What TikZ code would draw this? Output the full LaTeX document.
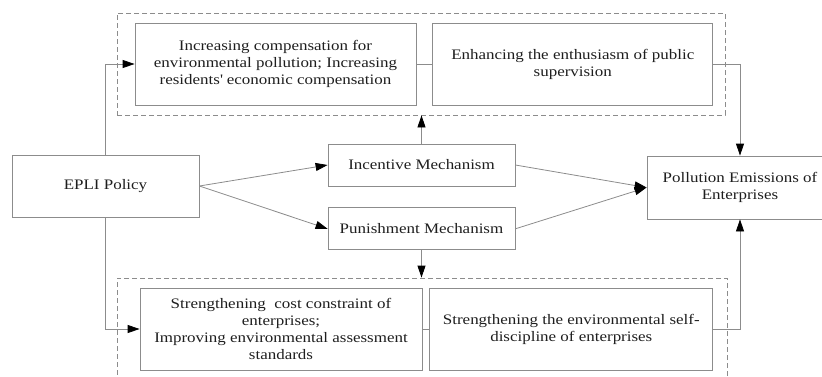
\documentclass[tikz,border=0pt]{standalone}
\usepackage{fontspec}
\setmainfont{Liberation Serif}[FakeStretch=1.17]
\usetikzlibrary{arrows.meta,positioning,backgrounds,fit}
\definecolor{linegray}{RGB}{140,140,140}
\definecolor{textgray}{RGB}{30,30,30}
\tikzset{
  box/.style={draw=linegray, line width=0.8pt, align=center, inner sep=0pt,
    text=textgray, font=\fontsize{14.5}{17}\selectfont},
  wide/.style={box, minimum width=281pt, minimum height=82pt},
  mech/.style={box, minimum width=187pt, minimum height=42pt},
  group/.style={draw=linegray, line width=0.8pt, dash pattern=on 5pt off 3pt, inner sep=0pt},
  link/.style={draw=linegray, line width=0.8pt},
  flow/.style={link, -{Triangle[length=12pt,width=8pt,black]}}
}

\begin{document}
\begin{tikzpicture}[x=1pt, y=-1pt, node distance=16pt]
  \clip (0,0) rectangle (822,376);
  \node[box, minimum width=187pt, minimum height=62pt] (epli) at (105.5,186) {EPLI Policy};
  \node[mech] (incent) at (421.5,165) {Incentive Mechanism};
  \node[mech] (punish) [below=21pt of incent] {Punishment Mechanism};
  \node[box, minimum width=186pt, minimum height=63pt] (pollut) at (740,187.5)
    {Pollution Emissions of\\Enterprises};
  % upper row
  \node[wide] (comp) at (275.5,64)
    {Increasing compensation for\\environmental pollution; Increasing\\residents\textquotesingle{} economic compensation};
  \node[wide, minimum width=280pt] (superv) [right=of comp]
    {Enhancing the enthusiasm of public\\supervision};
  % lower row
  \node[wide, minimum width=282pt] (cost) at (281,329)
    {Strengthening\ \ cost constraint of\\enterprises;\\Improving environmental assessment\\standards};
  \node[wide, minimum width=283pt] (selfd) [right=7pt of cost]
    {Strengthening the environmental self-\\discipline of enterprises};
  \begin{pgfonlayer}{background}
    \node[group, fit={(117,13) (725,115)}] (upper) {};
    \node[group, fit={(117,278) (727,390)}] (lower) {};
  \end{pgfonlayer}
  \path[flow] (epli.north) |- (comp.west);
  \path[flow] (epli.south) |- (cost.west);
  \path[link] (comp) -- (superv) (cost) -- (selfd);
  \path[flow] (superv.east) -| (pollut.north);
  \path[flow] (selfd.east) -| (pollut.south);
  \path[flow] (epli.east) -- (incent.west);
  \path[flow] (epli.east) -- (punish.west);
  \path[flow] (incent.east) -- (pollut.west);
  \path[flow] (punish.east) -- (pollut.west);
  \path[flow] (incent.north) -- (incent.north |- upper.south);
  \path[flow] (punish.south) -- (punish.south |- lower.north);
\end{tikzpicture}
\end{document}
